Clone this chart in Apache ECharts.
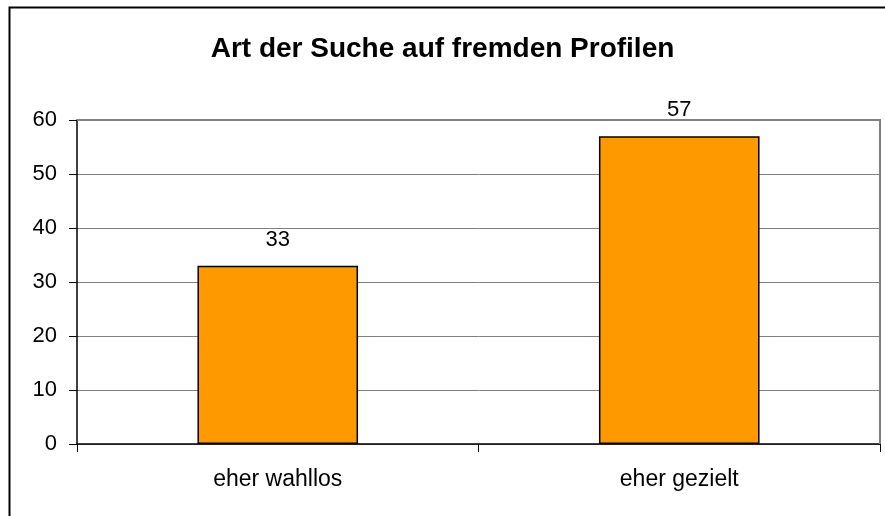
<!DOCTYPE html>
<html><head><meta charset="utf-8">
<script src="https://cdn.jsdelivr.net/npm/echarts@6/dist/echarts.min.js"></script>
<style>html,body{margin:0;padding:0;background:#fff}#c{width:885px;height:516px}</style>
</head><body><div id="c"></div>
<script>
const titleText = 'Art der Suche auf fremden Profilen';
const categories = ['eher wahllos', 'eher gezielt'];
const values = [33, 57];
const yTicks = {min: 0, max: 60, interval: 10};

const chart = echarts.init(document.getElementById('c'), null, {renderer: 'canvas'});
chart.setOption({
  animation: false,
  backgroundColor: '#fff',
  title: {
    text: titleText, left: 'center', top: 30,
    textStyle: {fontFamily: 'Liberation Sans, Arial', fontSize: 28, fontWeight: 'bold', color: '#000'}
  },
  graphic: [{
    type: 'rect', shape: {x: 9.5, y: 7.5, width: 900, height: 600},
    style: {fill: null, stroke: '#000', lineWidth: 2}, silent: true, z: 100
  }, {
    type: 'polyline', shape: {points: [[77, 120], [880, 120], [880, 444]]},
    style: {fill: null, stroke: '#808080', lineWidth: 2}, silent: true, z: 5
  }],
  grid: {left: 77, right: 5, top: 120, bottom: 72, containLabel: false},
  xAxis: {
    type: 'category', data: categories,
    axisLine: {lineStyle: {color: '#000', width: 1.5}},
    axisTick: {show: true, alignWithLabel: false, length: 8, lineStyle: {color: '#000'}},
    axisLabel: {margin: 24, fontFamily: 'Liberation Sans, Arial', fontSize: 23, color: '#000'}
  },
  yAxis: {
    type: 'value', min: yTicks.min, max: yTicks.max, interval: yTicks.interval,
    axisLine: {show: true, lineStyle: {color: '#000', width: 1.5}},
    axisTick: {show: true, length: 8, lineStyle: {color: '#000'}},
    axisLabel: {margin: 20, fontFamily: 'Liberation Sans, Arial', fontSize: 22, color: '#000'},
    splitLine: {lineStyle: {color: '#808080', width: 1}}
  },
  series: [{
    type: 'bar', data: values, barWidth: '40%',
    itemStyle: {color: '#FF9900', borderColor: '#000', borderWidth: 1.5},
    label: {show: true, position: 'top', distance: 15, fontFamily: 'Liberation Sans, Arial', fontSize: 22, color: '#000'}
  }]
});
</script></body></html>
